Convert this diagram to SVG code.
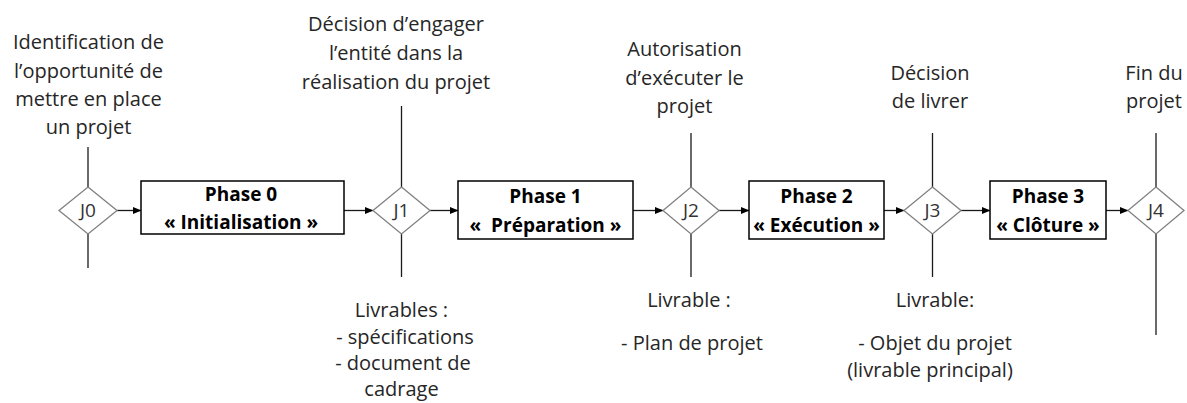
<svg xmlns="http://www.w3.org/2000/svg" width="1187" height="403" viewBox="0 0 1187 403">
<defs>
<marker id="arr" markerWidth="9" markerHeight="8" refX="8" refY="4" orient="auto" markerUnits="userSpaceOnUse">
<path d="M0,0.5 L8.5,4 L0,7.5 z" fill="#000"/>
</marker>
<style>
.t{font-family:"Open Sans","Liberation Sans",sans-serif;font-size:20px;fill:#262626;text-anchor:middle}
.b{font-family:"Open Sans","Liberation Sans",sans-serif;font-size:19px;font-weight:bold;fill:#000;text-anchor:middle}
.j{font-family:"Open Sans","Liberation Sans",sans-serif;font-size:19px;fill:#333;text-anchor:middle}
.dia{fill:#fff;stroke:#808080;stroke-width:1.3}
.box{fill:#fff;stroke:#000;stroke-width:1.5}
.ln{stroke:#1a1a1a;stroke-width:1.3;fill:none}
.ar{stroke:#1a1a1a;stroke-width:1.3;fill:none;marker-end:url(#arr)}
</style>
</defs>
<rect width="1187" height="403" fill="#fff"/>
<g id="connectors">
<line class="ln" x1="88" y1="147" x2="88" y2="187"/>
<line class="ln" x1="88" y1="234" x2="88" y2="268"/>
<line class="ln" x1="401.5" y1="106" x2="401.5" y2="187"/>
<line class="ln" x1="401.5" y1="234" x2="401.5" y2="277"/>
<line class="ln" x1="691" y1="133" x2="691" y2="187"/>
<line class="ln" x1="691" y1="234" x2="691" y2="277"/>
<line class="ln" x1="932.5" y1="133" x2="932.5" y2="187"/>
<line class="ln" x1="932.5" y1="234" x2="932.5" y2="277"/>
<line class="ln" x1="1156" y1="133" x2="1156" y2="187"/>
<line class="ln" x1="1156" y1="234" x2="1156" y2="335"/>
<line class="ar" x1="117" y1="210.5" x2="141" y2="210.5"/>
<line class="ar" x1="344" y1="210.5" x2="373" y2="210.5"/>
<line class="ar" x1="430" y1="210.5" x2="458" y2="210.5"/>
<line class="ar" x1="633" y1="210.5" x2="663" y2="210.5"/>
<line class="ar" x1="719" y1="210.5" x2="749" y2="210.5"/>
<line class="ar" x1="884" y1="210.5" x2="904" y2="210.5"/>
<line class="ar" x1="961" y1="210.5" x2="990" y2="210.5"/>
<line class="ar" x1="1106" y1="210.5" x2="1128" y2="210.5"/>
</g>
<g id="J0">
<polygon class="dia" points="88,187 117,210.5 88,234 59,210.5"/>
<text class="j" x="88" y="217">J0</text>
</g>
<g id="J1">
<polygon class="dia" points="401.5,187 430,210.5 401.5,234 373,210.5"/>
<text class="j" x="401.5" y="217">J1</text>
</g>
<g id="J2">
<polygon class="dia" points="691,187 719,210.5 691,234 663,210.5"/>
<text class="j" x="691" y="217">J2</text>
</g>
<g id="J3">
<polygon class="dia" points="932.5,187 961,210.5 932.5,234 904,210.5"/>
<text class="j" x="932.5" y="217">J3</text>
</g>
<g id="J4">
<polygon class="dia" points="1156,187 1184,210.5 1156,234 1128,210.5"/>
<text class="j" x="1156" y="217">J4</text>
</g>
<g id="phase0">
<rect class="box" x="141" y="181" width="203" height="53"/>
<text class="b" x="241" y="201">Phase 0</text>
<text class="b" x="241" y="229">« Initialisation »</text>
</g>
<g id="phase1">
<rect class="box" x="458" y="181" width="175" height="58"/>
<text class="b" x="545.5" y="203">Phase 1</text>
<text class="b" x="545.5" y="231.5" xml:space="preserve">«  Préparation »</text>
</g>
<g id="phase2">
<rect class="box" x="749" y="181" width="135" height="58"/>
<text class="b" x="816.5" y="203">Phase 2</text>
<text class="b" x="816.5" y="231.5">« Exécution »</text>
</g>
<g id="phase3">
<rect class="box" x="990" y="181" width="116" height="58"/>
<text class="b" x="1048" y="203">Phase 3</text>
<text class="b" x="1048" y="231.5">« Clôture »</text>
</g>
<g id="label-j0">
<text class="t" x="88.5" y="49">Identification de</text>
<text class="t" x="88.5" y="77.5">l’opportunité de</text>
<text class="t" x="88.5" y="106">mettre en place</text>
<text class="t" x="88.5" y="134">un projet</text>
</g>
<g id="label-j1-top">
<text class="t" x="396" y="31">Décision d’engager</text>
<text class="t" x="396" y="60">l’entité dans la</text>
<text class="t" x="396" y="88.5">réalisation du projet</text>
</g>
<g id="label-j1-bottom">
<text class="t" x="401.5" y="317">Livrables :</text>
<text class="t" x="405" y="343.5">- spécifications</text>
<text class="t" x="403" y="370">- document de</text>
<text class="t" x="401.5" y="396">cadrage</text>
</g>
<g id="label-j2-top">
<text class="t" x="684.5" y="56">Autorisation</text>
<text class="t" x="684.5" y="85">d’exécuter le</text>
<text class="t" x="684.5" y="113">projet</text>
</g>
<g id="label-j2-bottom">
<text class="t" x="689" y="307">Livrable :</text>
<text class="t" x="692" y="350">- Plan de projet</text>
</g>
<g id="label-j3-top">
<text class="t" x="930" y="80">Décision</text>
<text class="t" x="930" y="108">de livrer</text>
</g>
<g id="label-j3-bottom">
<text class="t" x="935" y="307">Livrable:</text>
<text class="t" x="935" y="350">- Objet du projet</text>
<text class="t" x="930" y="377">(livrable principal)</text>
</g>
<g id="label-j4">
<text class="t" x="1154" y="80">Fin du</text>
<text class="t" x="1154" y="108">projet</text>
</g>
</svg>
